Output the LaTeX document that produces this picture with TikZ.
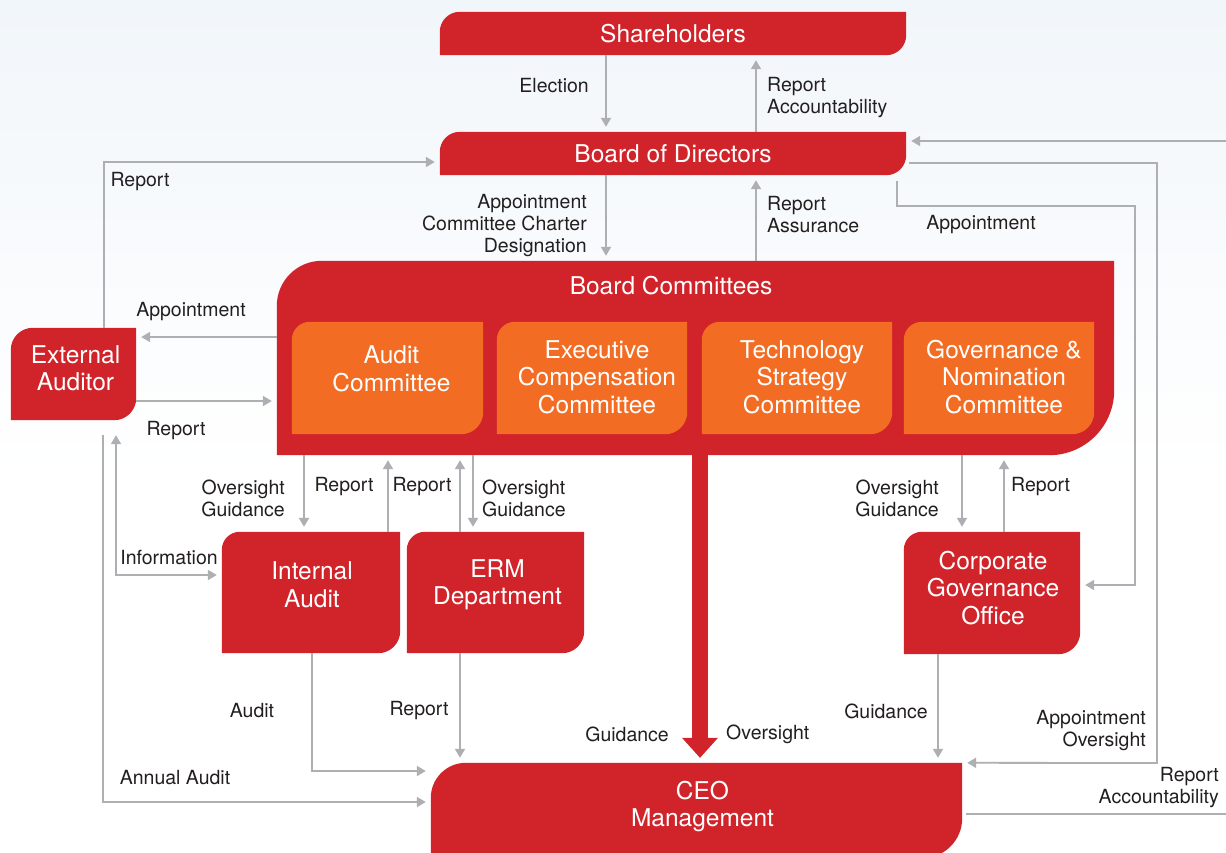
\documentclass[tikz,border=0pt]{standalone}
\usepackage{fontspec}
\setmainfont{TeX Gyre Heros}
\usetikzlibrary{%
  arrows.meta,%
  backgrounds% leaf shapes behind the texts
}
\definecolor{boxred}{HTML}{D1232A}
\definecolor{boxorange}{HTML}{F26C23}
\definecolor{linkgray}{HTML}{ADAFB2}
\definecolor{labeltext}{HTML}{231F20}
\definecolor{skytint}{HTML}{F1F6FA}

% fill colour, node, top-left radius, bottom-right radius
\newcommand{\leaf}[4]{%
  \fill[#1] (#2.south west) -- ([yshift=-#3]#2.north west)
    arc[start angle=180, end angle=90, radius=#3]
    -- (#2.north east) -- ([yshift=#4]#2.south east)
    arc[start angle=0, end angle=-90, radius=#4] -- cycle;}

\begin{document}
\begin{tikzpicture}[x=1pt, y=-1pt,
    box/.style={inner sep=0pt, text=white, align=center,
      font=\fontsize{24.5}{27.5}\selectfont},
    liftbox/.style 2 args={inner sep=0pt,
      label={[box, #1]center:#2}},
    lbl/.style={inner sep=0pt, text=labeltext,
      font=\fontsize{19.5}{22}\selectfont},
    link/.style={draw=linkgray, line width=1.8pt},
    tip/.style={link, -{Triangle[length=9pt,width=10pt]}, shorten >=5pt},
    twotip/.style={tip, {Triangle[length=9pt,width=10pt]}-{Triangle[length=9pt,width=10pt]}},
    bigtip/.style={draw=boxred, line width=16pt,
      -{Triangle[length=20pt,width=36pt,line width=0pt]}, shorten >=5pt}
  ]
  \useasboundingbox (0,0) rectangle (1226,852);

  % draw boxes
  \node[box, minimum width=466pt, minimum height=43pt] at (673,33.5) (sh) {Shareholders};
  \node[box, minimum width=466pt, minimum height=43pt] at (673,153.5) (bod) {Board of Directors};
  \node[minimum width=837pt, minimum height=194pt, inner sep=0pt] at (695.5,358) (bc) {};
  \node[box] at (671,286) (bctitle) {Board Committees};
  \node[liftbox={xshift=4pt,yshift=9pt}{Audit\\Committee}, minimum width=191pt, minimum height=112pt] at (387.5,378) (ac) {};
  \node[liftbox={xshift=5pt,yshift=1pt}{Executive\\Compensation\\Committee}, minimum width=190pt, minimum height=112pt] at (592,378) (ecc) {};
  \node[liftbox={xshift=5pt,yshift=1pt}{Technology\\Strategy\\Committee}, minimum width=190pt, minimum height=112pt] at (797,378) (tsc) {};
  \node[liftbox={xshift=5pt,yshift=1pt}{Governance \&\\Nomination\\Committee}, minimum width=190pt, minimum height=112pt] at (999,378) (gnc) {};
  \node[liftbox={xshift=2pt,yshift=6pt}{External\\Auditor}, minimum width=125pt, minimum height=92pt] at (73.5,374) (ea) {};
  \node[liftbox={xshift=1pt,yshift=8pt}{Internal\\Audit}, minimum width=178pt, minimum height=121pt] at (311,592.5) (ia) {};
  \node[liftbox={xshift=2pt,yshift=8pt}{ERM\\Department}, minimum width=177pt, minimum height=121pt] at (495.5,592.5) (erm) {};
  \node[liftbox={xshift=1pt,yshift=5pt}{Corporate\\Governance\\Office}, minimum width=176pt, minimum height=122pt] at (992,593) (cgo) {};
  \node[liftbox={xshift=6pt,yshift=4pt}{CEO\\Management}, minimum width=531pt, minimum height=95pt] at (696.5,810.5) (ceo) {};

  \begin{scope}[on background layer]
    \shade[top color=skytint, bottom color=white] (0,0) rectangle (1226,470);
    \fill[white] (0,470) rectangle (1226,852);
    \leaf{boxred}{sh}{20pt}{20pt}
    \leaf{boxred}{bod}{20pt}{20pt}
    \leaf{boxred}{bc}{45pt}{65pt}
    \foreach \n in {ac,ecc,tsc,gnc}{
      \leaf{boxorange}{\n}{18pt}{22pt}}
    \leaf{boxred}{ea}{22pt}{22pt}
    \leaf{boxred}{ia}{18pt}{22pt}
    \leaf{boxred}{erm}{18pt}{22pt}
    \leaf{boxred}{cgo}{18pt}{22pt}
    \leaf{boxred}{ceo}{35pt}{40pt}
  \end{scope}

  % free ends of the loop on the right
  \coordinate (loopin) at (1226,141);
  \coordinate (loopout) at (1226,814);

  % draw connections
  \draw[tip] ([xshift=-67pt]sh.south) -- ([xshift=-67pt]bod.north);
  \draw[tip] ([xshift=83pt]bod.north) -- ([xshift=83pt]sh.south);
  \draw[tip] ([xshift=-67pt]bod.south) -- ([xshift=-89.5pt]bc.north);
  \draw[tip] ([xshift=60.5pt]bc.north) -- ([xshift=83pt]bod.south);
  \draw[tip] ([xshift=224pt,yshift=-6pt]bod.south) |- (1135,206) |- ([yshift=8pt]cgo.east);
  \draw[tip] ([xshift=3pt,yshift=-9.5pt]bod.east) -| (1157,763) -- (ceo.north east);
  \draw[tip] (loopin) -- ([yshift=12.5pt]bod.east);
  \draw[link] ([xshift=4pt,yshift=-3.5pt]ceo.east) -- (loopout);

  \draw[tip] ([xshift=30.5pt]ea.north) |- ([yshift=-8.5pt]bod.west);
  \draw[tip] ([yshift=21pt]bc.west) -- ([yshift=37pt]ea.east);
  \draw[tip] ([yshift=-27pt]ea.east) -- ([yshift=-43pt]bc.west);
  \draw[twotip, shorten <=15pt] ([xshift=42.5pt]ea.south) |- ([yshift=17.5pt]ia.west);
  \draw[tip, shorten <=15pt] ([xshift=29.5pt]ea.south) |- ([yshift=8.5pt]ceo.west);

  \draw[tip] ([xshift=-391.5pt]bc.south) -- ([xshift=-7pt]ia.north);
  \draw[tip] ([xshift=77pt]ia.north) -- ([xshift=-307.5pt]bc.south);
  \draw[tip] ([xshift=-35.5pt]erm.north) -- ([xshift=-235.5pt]bc.south);
  \draw[tip] ([xshift=-222.5pt]bc.south) -- ([xshift=-22.5pt]erm.north);
  \draw[tip] ([xshift=1pt]ia.south) |- ([yshift=39.5pt]ceo.west);
  \draw[tip] ([xshift=-35.5pt]erm.south) -- ([xshift=-236.5pt]ceo.north);

  \draw[bigtip] ([xshift=4.5pt]bc.south) -- ([xshift=3.5pt]ceo.north);

  \draw[tip] ([xshift=266.5pt]bc.south) -- ([xshift=-30pt]cgo.north);
  \draw[tip] ([xshift=12pt]cgo.north) -- ([xshift=308.5pt]bc.south);
  \draw[tip] ([xshift=-54pt]cgo.south) -- ([xshift=241.5pt]ceo.north);

  % draw labels
  \node[lbl, anchor=east] at (589,86) (lelect) {Election};
  \node[lbl, anchor=west, align=left] at (767,98) (lshrep) {Report\\Accountability};
  \node[lbl, anchor=east, align=right] at (587,226) (lappt) {Appointment\\Committee Charter\\Designation};
  \node[lbl, anchor=west, align=left] at (767,215) (lassur) {Report\\Assurance};
  \node[lbl] at (981,225) (lcgoappt) {Appointment};
  \node[lbl, anchor=east, align=right] at (1146,731) (lceoappt) {Appointment\\Oversight};
  \node[lbl, anchor=east, align=right] at (1219,788) (lceorep) {Report\\Accountability};
  \node[lbl] at (140,182) (leabod) {Report};
  \node[lbl] at (191,312) (leaappt) {Appointment};
  \node[lbl] at (176,431) (leabc) {Report};
  \node[lbl] at (169,557) (linfo) {Information};
  \node[lbl] at (175,778) (lannual) {Annual Audit};
  \node[lbl, anchor=east, align=right] at (285,498) (liaover) {Oversight\\Guidance};
  \node[lbl] at (344,487) (liarep) {Report};
  \node[lbl] at (422,487) (lermrep) {Report};
  \node[lbl, anchor=west, align=left] at (482,498) (lermover) {Oversight\\Guidance};
  \node[lbl] at (252,711) (laudit) {Audit};
  \node[lbl] at (419,711) (lermceo) {Report};
  \node[lbl, anchor=east] at (669,734) (lguid) {Guidance};
  \node[lbl, anchor=west] at (726,734) (lover) {Oversight};
  \node[lbl, anchor=east, align=right] at (939,498) (lcgoover) {Oversight\\Guidance};
  \node[lbl, anchor=west] at (1011,487) (lcgorep) {Report};
  \node[lbl] at (886,711) (lcgoceo) {Guidance};
\end{tikzpicture}
\end{document}
